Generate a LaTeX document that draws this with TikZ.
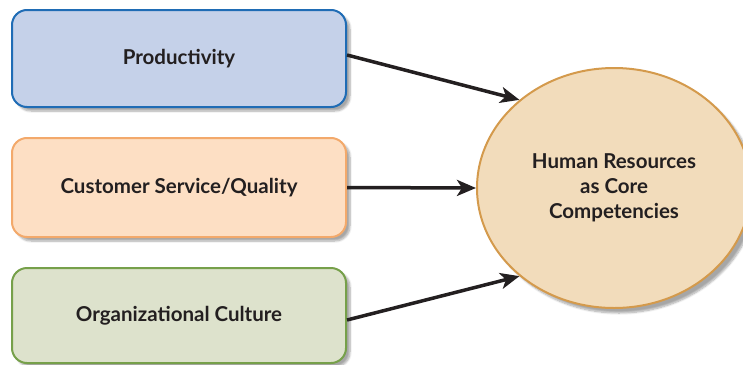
\documentclass[tikz,border=0pt]{standalone}
\usepackage{fontspec}
\setmainfont{Lato}
\usetikzlibrary{arrows.meta,shapes.geometric,shadows.blur}

\definecolor{prodfill}{HTML}{C5D1E9}
\definecolor{prodline}{HTML}{1F6CB5}
\definecolor{custfill}{HTML}{FDDFC4}
\definecolor{custline}{HTML}{F3A96B}
\definecolor{orgfill}{HTML}{DDE2CC}
\definecolor{orgline}{HTML}{76A04A}
\definecolor{hrfill}{HTML}{F2DCBB}
\definecolor{hrline}{HTML}{D49A4C}
\definecolor{ink}{HTML}{231F20}

\tikzset{
  factor/.style={rectangle, rounded corners=15pt, line width=2pt,
    minimum width=334pt, inner sep=0pt, text=ink,
    font=\fontsize{20.5}{24}\selectfont\bfseries,
    blur shadow={shadow xshift=4pt, shadow yshift=-4pt, shadow blur steps=8, shadow opacity=35}},
  core/.style={ellipse, line width=2pt, draw=hrline, fill=hrfill,
    minimum width=274pt, minimum height=240pt, inner sep=0pt, text=ink,
    align=center, font=\fontsize{20.5}{25}\selectfont\bfseries,
    blur shadow={shadow xshift=5pt, shadow yshift=-5pt, shadow blur steps=8, shadow opacity=35}},
  link/.style={line width=3.5pt, draw=ink,
    -{Stealth[length=19pt, width=16pt, inset=5pt]}}
}

\begin{document}
\begin{tikzpicture}[x=1pt, y=-1pt]
  \useasboundingbox (0,0) rectangle (743,364);

  \node[factor, draw=prodline, fill=prodfill, minimum height=97pt]
    (prod) at (179,58.5) {Productivity};
  \node[factor, draw=custline, fill=custfill, minimum height=99pt]
    (cust) at (179,187.5) {Customer Service/Quality};
  \node[factor, draw=orgline, fill=orgfill, minimum height=95pt]
    (org) at (179,315.5) {Organizational Culture};

  \node[core] (hr) at (614,188) {Human Resources\\as Core\\Competencies};

  \draw[link] ([yshift=3.5pt]prod.east) -- (hr.137);
  \draw[link] (cust.east) -- (hr.west);
  \draw[link] ([yshift=-4.5pt]org.east) -- (hr.223);
\end{tikzpicture}
\end{document}
